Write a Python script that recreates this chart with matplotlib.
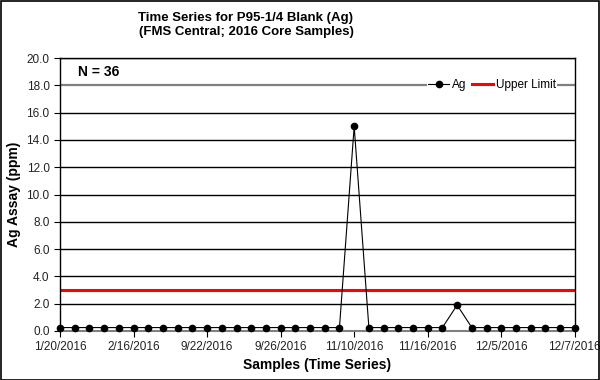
import matplotlib
matplotlib.use('Agg')
import matplotlib.pyplot as plt

plt.rcParams['font.family'] = ['Liberation Sans', 'DejaVu Sans']

# data
n_samples = 36
ag_values = [0.25] * 20 + [15.0] + [0.25] * 6 + [1.9] + [0.25] * 8
upper_limit = 3.0
tick_pos = [0, 5, 10, 15, 20, 25, 30, 35]
tick_labels = ['1/20/2016', '2/16/2016', '9/22/2016', '9/26/2016',
               '11/10/2016', '11/16/2016', '12/5/2016', '12/7/2016']
y_ticks = [0, 2, 4, 6, 8, 10, 12, 14, 16, 18, 20]

x = list(range(n_samples))

fig = plt.figure(figsize=(6, 3.8), dpi=100, facecolor='white')
fig.patches.append(plt.Rectangle((0.001, 0.001), 0.997, 0.996, transform=fig.transFigure,
                                 fill=False, edgecolor='black', linewidth=1.2))
ax = fig.add_axes([0.1, 0.129, 0.858, 0.718])

# gridlines
for yv in y_ticks[1:]:
    ax.axhline(yv, color='#808080' if yv == 18 else 'black', linewidth=1.0 if yv != 18 else 1.6, zorder=1)

ax.axhline(upper_limit, color='#ff0000', linewidth=2.2, zorder=2, label='Upper Limit')
ax.plot(x, ag_values, color='black', linewidth=0.8, marker='o', markersize=4.5, zorder=3,
        label='Ag', clip_on=False)

ax.set_xlim(0, n_samples - 1)
ax.set_ylim(0, 20)
ax.set_yticks(y_ticks)
ax.set_yticklabels(['%.1f' % v for v in y_ticks], fontsize=8.5, color='#222222')
ax.set_xticks(tick_pos)
ax.set_xticklabels(tick_labels, fontsize=8.5, color='#222222')
ax.tick_params(axis='y', length=4, width=0.8, direction='out')
ax.tick_params(axis='x', length=4, width=0.8, direction='out')

for side in ['top', 'right', 'left']:
    ax.spines[side].set_color('black')
    ax.spines[side].set_linewidth(1.0)
ax.spines['bottom'].set_color('#808080')
ax.spines['bottom'].set_linewidth(1.5)

ax.set_xlabel('Samples (Time Series)', fontsize=10, fontweight='bold', labelpad=3)
ax.set_ylabel('Ag Assay (ppm)', fontsize=10, fontweight='bold', labelpad=4)
fig.text(0.41, 0.935, 'Time Series for P95-1/4 Blank (Ag)\n(FMS Central; 2016 Core Samples)',
         ha='center', va='center', fontsize=9.5, fontweight='bold', linespacing=1.2)

ax.text(0.035, 0.948, 'N = 36', transform=ax.transAxes, fontsize=10, fontweight='bold',
        ha='left', va='center')

handles, labels = ax.get_legend_handles_labels()
leg = ax.legend(handles[::-1], labels[::-1], loc='center right', bbox_to_anchor=(0.965, 0.9),
                ncol=2, fontsize=8.5, frameon=True, facecolor='white', edgecolor='none',
                framealpha=1, borderpad=0.1, handlelength=1.8, handletextpad=0.2,
                columnspacing=0.5, borderaxespad=0)
leg.set_zorder(5)

fig.savefig('out.png', dpi=100, facecolor='white')
